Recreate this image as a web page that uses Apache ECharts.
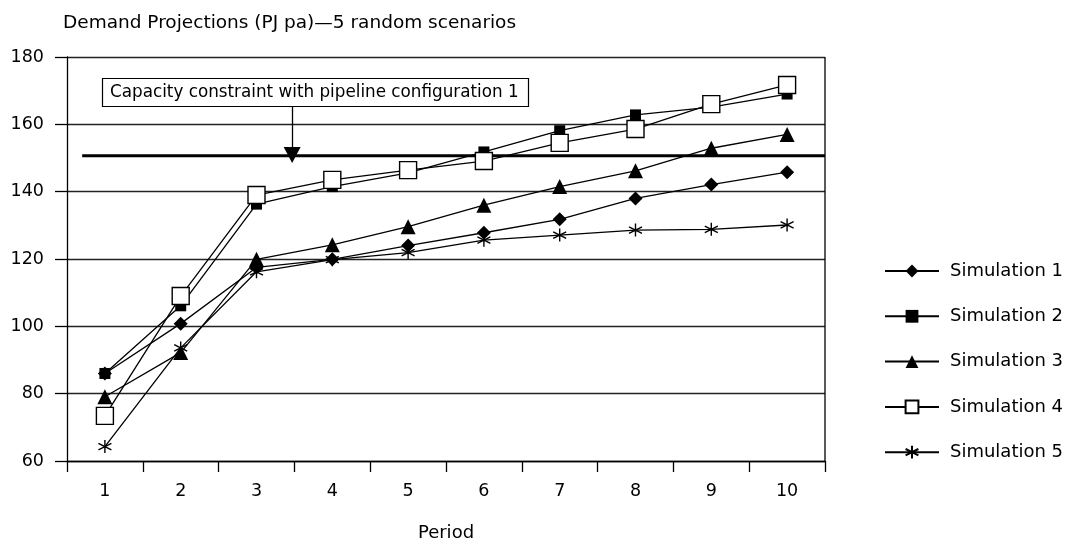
<!DOCTYPE html>
<html><head><meta charset="utf-8">
<script src="https://cdn.jsdelivr.net/npm/echarts@6/dist/echarts.min.js"></script>
<style>html,body{margin:0;padding:0;background:#fff}#c{width:1077px;height:546px}</style>
</head><body><div id="c"></div>
<script>
const periods = ['1','2','3','4','5','6','7','8','9','10'];
const sim1 = [86.0, 100.8, 117.5, 119.9, 124.0, 127.8, 131.8, 138.0, 142.1, 145.8];
const sim2 = [86.0, 106.1, 136.3, 141.5, 145.6, 151.8, 158.1, 162.8, 165.1, 169.0];
const sim3 = [79.1, 92.2, 119.9, 124.2, 129.6, 136.0, 141.5, 146.2, 152.9, 157.0];
const sim4 = [73.4, 109.0, 139.0, 143.5, 146.4, 149.1, 154.5, 158.6, 166.0, 171.7];
const sim5 = [64.3, 93.6, 116.2, 119.8, 121.9, 125.6, 127.1, 128.6, 128.8, 130.1];
const capacity = 150.7;
const capStart = 0.7, capEnd = 10.5, arrowX = 3.47, arrowTop = 165.4;
const yTicks = {min: 60, max: 180, interval: 20};
const FONT = 'DejaVu Sans';

const asterisk = 'path://M0,-10L0,10M-8.66,-5L8.66,5M-8.66,5L8.66,-5';
function sim(name, data, symbol, size, fill) {
  return {
    name, type: 'line', data, symbol, symbolSize: size, showSymbol: true,
    lineStyle: {color: '#000', width: 1.3},
    itemStyle: {color: fill, borderColor: '#000', borderWidth: symbol === asterisk ? 1.4 : (fill === '#fff' ? 1.4 : 0)},
    emphasis: {disabled: true}, animation: false
  };
}
const chart = echarts.init(document.getElementById('c'), null, {renderer: 'canvas'});
chart.setOption({
  animation: false,
  textStyle: {fontFamily: FONT, color: '#000'},
  title: {text: 'Demand Projections (PJ pa)\u20145 random scenarios', left: 58, top: 9,
    textStyle: {fontFamily: FONT, fontSize: 18.5, fontWeight: 'normal', color: '#000'}},
  grid: {left: 67, right: 252, top: 57, bottom: 85, containLabel: false, outerBoundsMode: 'none'},
  legend: {orient: 'vertical', left: 879, top: 257, itemWidth: 54, itemHeight: 16, itemGap: 27.3,
    data: ['Simulation 1','Simulation 2','Simulation 3','Simulation 4','Simulation 5'],
    textStyle: {fontFamily: FONT, fontSize: 18, color: '#000', padding: [0,0,0,6]}},
  xAxis: [{
    type: 'category', data: periods, boundaryGap: true,
    name: 'Period', nameLocation: 'middle', nameGap: 63,
    nameTextStyle: {fontFamily: FONT, fontSize: 18, color: '#000'},
    axisLine: {lineStyle: {color: '#000', width: 1.3}},
    axisTick: {show: true, length: 11, lineStyle: {color: '#000', width: 1.3}},
    axisLabel: {margin: 21, fontFamily: FONT, fontSize: 17.5, color: '#000'},
    splitLine: {show: false}
  }, {
    type: 'value', min: 0.5, max: 10.5, show: false
  }],
  yAxis: {
    type: 'value', min: yTicks.min, max: yTicks.max, interval: yTicks.interval,
    axisLine: {show: true, lineStyle: {color: '#000', width: 1.3}},
    axisTick: {show: true, inside: false, length: 12, lineStyle: {color: '#000', width: 1.3}},
    axisLabel: {margin: 23, fontFamily: FONT, fontSize: 17.5, color: '#000'},
    splitLine: {show: true, lineStyle: {color: '#222', width: 1.3}}
  },
  graphic: [
    {type: 'line', shape: {x1: 825, y1: 57, x2: 825, y2: 461}, style: {stroke: '#000', lineWidth: 1.3}, z: 5},
    {type: 'rect', shape: {x: 102.5, y: 78.5, width: 426, height: 28}, style: {fill: '#fff', stroke: '#000', lineWidth: 1.2}, z: 10},
    {type: 'text', x: 110, y: 92.5, style: {text: 'Capacity constraint with pipeline configuration 1', fontFamily: FONT, fontSize: 16.8, fill: '#000', verticalAlign: 'middle'}, z: 11}
  ],
  series: [
    {
      name: 'capacity', type: 'line', xAxisIndex: 1, data: [[capStart, capacity], [capEnd, capacity]],
      symbol: 'none', lineStyle: {color: '#000', width: 3}, silent: true, z: 1,
      markLine: {
        silent: true, symbol: ['none', 'triangle'], symbolSize: [17, 16], label: {show: false},
        lineStyle: {color: '#000', width: 1.3, type: 'solid'},
        data: [[{coord: [arrowX, arrowTop]}, {coord: [arrowX, capacity + 0.2]}]]
      }
    },
    sim('Simulation 1', sim1, 'diamond', 14, '#000'),
    sim('Simulation 2', sim2, 'rect', 11, '#000'),
    sim('Simulation 3', sim3, 'triangle', 15, '#000'),
    sim('Simulation 4', sim4, 'rect', 17, '#fff'),
    sim('Simulation 5', sim5, asterisk, 13, '#000')
  ]
});
</script></body></html>
